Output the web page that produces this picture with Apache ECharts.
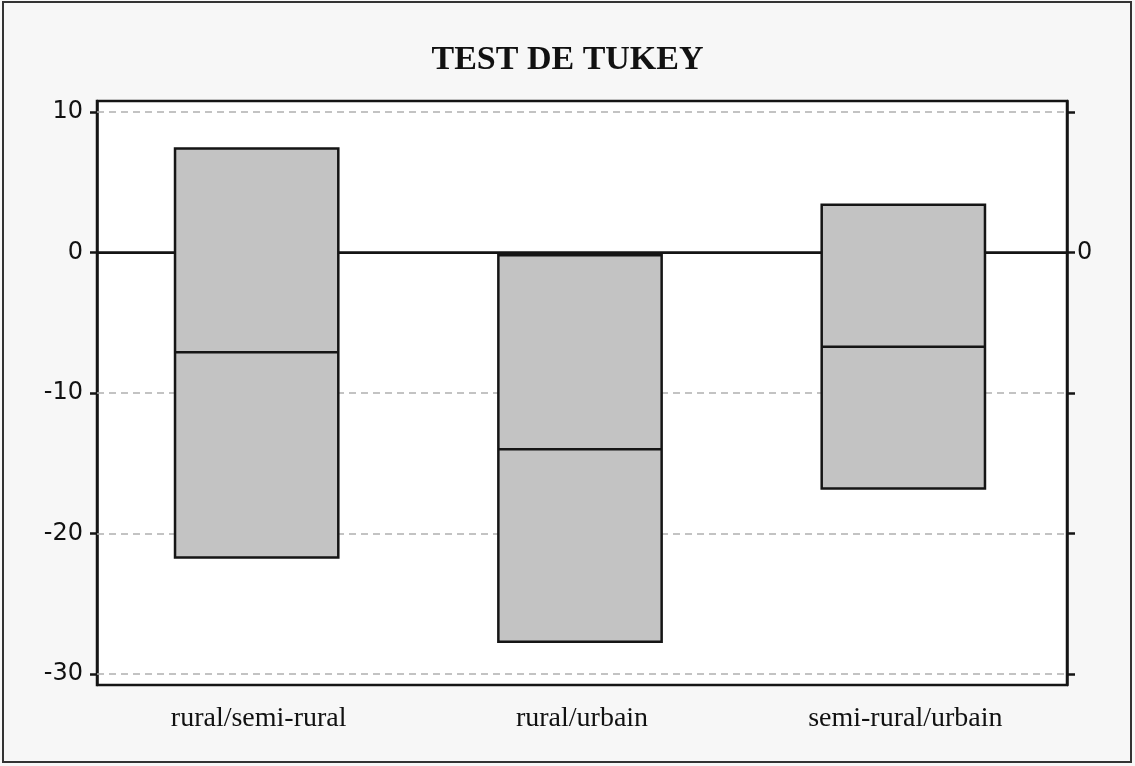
<!DOCTYPE html>
<html>
<head>
<meta charset="utf-8">
<script src="https://cdn.jsdelivr.net/npm/echarts@6/dist/echarts.min.js"></script>
<style>
  html, body { margin: 0; padding: 0; background: #f7f7f7; }
  #chart { width: 1135px; height: 766px; }
</style>
</head>
<body>
<div id="chart"></div>
<script>
// comparaisons (Tukey)
var categories = ['rural/semi-rural', 'rural/urbain', 'semi-rural/urbain'];
var lowerValues = [-21.7, -27.7, -16.8];
var centerValues = [-7.1, -14.0, -6.7];
var upperValues = [7.4, -0.2, 3.4];
var leftTicks = [-30, -20, -10, 0, 10];
var rightLabels = [0];
var gridValues = [10, -10, -20, -30];

var chart = echarts.init(document.getElementById('chart'));

var boxData = [];
for (var i = 0; i < categories.length; i++) {
  boxData.push([i, lowerValues[i], centerValues[i], upperValues[i]]);
}

function renderBox(params, api) {
  var idx = api.value(0);
  var low = api.coord([idx, api.value(1)]);
  var mid = api.coord([idx, api.value(2)]);
  var high = api.coord([idx, api.value(3)]);
  var w = api.size([1, 0])[0] * 0.505;
  var x0 = low[0] - w / 2 - 2;
  return {
    type: 'group',
    children: [
      {
        type: 'rect',
        shape: { x: x0, y: high[1], width: w, height: low[1] - high[1] },
        style: { fill: '#c3c3c3', stroke: '#151515', lineWidth: 2.5 }
      },
      {
        type: 'line',
        shape: { x1: x0, y1: mid[1], x2: x0 + w, y2: mid[1] },
        style: { stroke: '#151515', lineWidth: 2.5 }
      }
    ]
  };
}

var axisLineStyle = { color: '#151515', width: 2.5 };

chart.setOption({
  backgroundColor: '#f7f7f7',
  animation: false,
  title: {
    text: 'TEST DE TUKEY',
    left: 'center',
    top: 38,
    textStyle: { fontFamily: 'Liberation Serif', fontWeight: 'bold', fontSize: 34, color: '#111' }
  },
  graphic: [{
    type: 'rect',
    shape: { x: 3, y: 2, width: 1128, height: 760 },
    style: { fill: null, stroke: '#333', lineWidth: 2 },
    z: 100
  }],
  grid: {
    left: 97, top: 101, width: 970, height: 584,
    show: true, backgroundColor: '#fff', borderColor: '#151515', borderWidth: 2.5
  },
  xAxis: {
    type: 'category',
    data: categories,
    axisLine: { lineStyle: axisLineStyle },
    axisTick: { alignWithLabel: true, length: 9, lineStyle: axisLineStyle },
    axisLabel: { fontFamily: 'Liberation Serif', fontSize: 28, color: '#111', margin: 20 },
    splitLine: { show: false }
  },
  yAxis: [
    {
      type: 'value',
      min: -30.78, max: 10.78,
      axisLine: { show: true, lineStyle: axisLineStyle },
      axisTick: { show: true, length: 7, customValues: leftTicks, lineStyle: axisLineStyle },
      axisLabel: { customValues: leftTicks, fontFamily: 'DejaVu Sans', fontSize: 24, color: '#111', margin: 14 },
      splitLine: { show: false }
    },
    {
      type: 'value',
      position: 'right',
      min: -30.78, max: 10.78,
      axisLine: { show: true, lineStyle: axisLineStyle },
      axisTick: { show: true, length: 8, customValues: leftTicks, lineStyle: axisLineStyle },
      axisLabel: { customValues: rightLabels, fontFamily: 'DejaVu Sans', fontSize: 24, color: '#111', margin: 10 },
      splitLine: { show: false }
    }
  ],
  series: [
    {
      type: 'line',
      data: [],
      z: 1,
      silent: true,
      markLine: {
        symbol: 'none',
        silent: true,
        label: { show: false },
        data: gridValues.map(function (v) {
          return { yAxis: v, lineStyle: { color: '#b0b0b0', type: [7, 5], width: 1.5 } };
        }).concat([{ yAxis: 0, lineStyle: { color: '#151515', type: 'solid', width: 2 } }])
      }
    },
    {
      type: 'custom',
      renderItem: renderBox,
      data: boxData,
      z: 5,
      encode: { x: 0, y: [1, 2, 3] }
    }
  ]
});
</script>
</body>
</html>
